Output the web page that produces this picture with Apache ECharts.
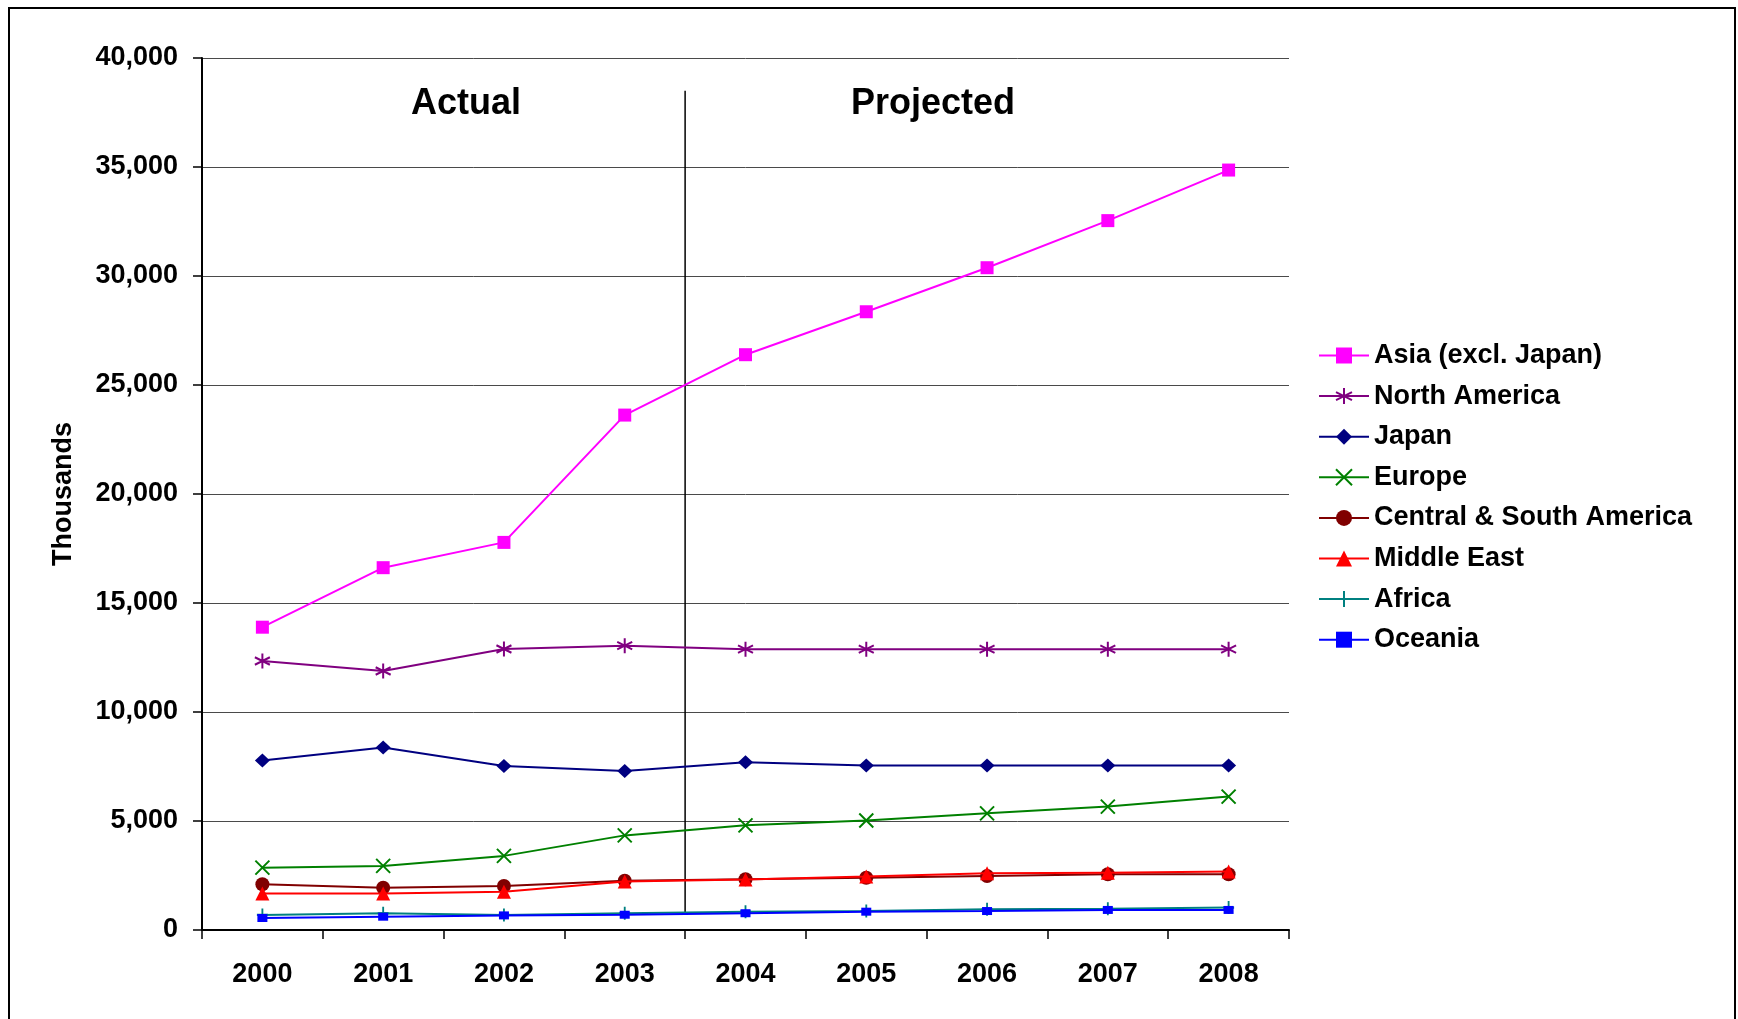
<!DOCTYPE html>
<html>
<head>
<meta charset="utf-8">
<script src="https://cdn.jsdelivr.net/npm/echarts@6/dist/echarts.min.js"></script>
<style>
html,body{margin:0;padding:0;background:#fff;}
#chart{width:1738px;height:1019px;}
</style>
</head>
<body>
<div id="chart"></div>
<script>
const years = ['2000','2001','2002','2003','2004','2005','2006','2007','2008'];
const yTicks = [0,5000,10000,15000,20000,25000,30000,35000,40000];

const asia       = [13890,16620,17780,23620,26390,28360,30380,32540,34860];
const northAm    = [12340,11880,12890,13040,12880,12880,12880,12880,12880];
const japan      = [7770,8370,7520,7290,7700,7550,7550,7550,7550];
const europe     = [2860,2940,3400,4340,4800,5020,5350,5660,6120];
const centralSA  = [2100,1940,2020,2260,2330,2400,2480,2560,2560];
const middleEast = [1680,1680,1760,2220,2320,2450,2600,2630,2680];
const africa     = [690,770,690,770,840,870,950,970,1030];
const oceania    = [550,610,670,700,770,840,870,920,920];

const seriesNames = ['Asia (excl. Japan)','North America','Japan','Europe','Central & South America','Middle East','Africa','Oceania'];
const seriesValues = [asia,northAm,japan,europe,centralSA,middleEast,africa,oceania];
const seriesColors = ['#FF00FF','#800080','#000080','#008000','#800000','#FF0000','#008080','#0000FF'];

const divider = { xValue: 4, from: 700, to: 38500 };

const FONT = 'Liberation Sans, Arial, sans-serif';

const symbolDefs = [
  {symbol:'rect', size:13, stroke:false},
  {symbol:'path://M0,-10 L0,10 M-8.66,-5 L8.66,5 M-8.66,5 L8.66,-5', size:15, stroke:true},
  {symbol:'diamond', size:[15,14], stroke:false},
  {symbol:'path://M-5,-5 L5,5 M-5,5 L5,-5', size:14, stroke:true},
  {symbol:'circle', size:14, stroke:false},
  {symbol:'triangle', size:14, stroke:false},
  {symbol:'path://M0,-6 L0,6 M-5,0 L5,0', size:[11,13], stroke:true},
  {symbol:'rect', size:[10,8], stroke:false}
];

const lineSeries = seriesNames.map((name,i)=>{
  const d = symbolDefs[i];
  return {
    name: name,
    type: 'line',
    xAxisIndex: 0,
    yAxisIndex: 0,
    data: seriesValues[i],
    symbol: d.symbol,
    symbolSize: d.size,
    showAllSymbol: true,
    lineStyle: {color: seriesColors[i], width: 2},
    itemStyle: d.stroke
      ? {color: seriesColors[i], borderColor: seriesColors[i], borderWidth: 2}
      : {color: seriesColors[i], borderWidth: 0},
    emphasis: {disabled: true},
    z: 3 + i
  };
});

lineSeries.push({
  name: 'divider',
  type: 'line',
  xAxisIndex: 1,
  yAxisIndex: 0,
  data: [[divider.xValue, divider.from],[divider.xValue, divider.to]],
  symbol: 'none',
  lineStyle: {color:'#000', width: 1.5},
  silent: true,
  emphasis: {disabled: true},
  z: 2
});

const chart = echarts.init(document.getElementById('chart'), null, {renderer:'canvas'});
const option = {
  animation: false,
  backgroundColor: '#fff',
  textStyle: {fontFamily: FONT},
  grid: {left: 202, right: 449, top: 58, bottom: 89, containLabel: false},
  legend: {
    data: seriesNames,
    orient: 'vertical',
    left: 1313,
    top: 337,
    itemWidth: 50,
    itemHeight: 20,
    itemGap: 13.6,
    selectedMode: false,
    textStyle: {fontFamily: FONT, fontWeight: 'bold', fontSize: 27, color: '#000', lineHeight: 27}
  },
  xAxis: [{
    type: 'category',
    data: years,
    boundaryGap: true,
    axisLine: {show: true, lineStyle: {color:'#000', width: 2}},
    axisTick: {show: true, length: 9, lineStyle: {color:'#000', width: 1.5}},
    axisLabel: {fontFamily: FONT, fontWeight:'bold', fontSize: 27, color:'#000', margin: 31},
    splitLine: {show: false}
  },{
    type: 'value',
    min: 0,
    max: 9,
    show: false
  }],
  yAxis: [{
    type: 'value',
    min: 0,
    max: 40000,
    interval: 5000,
    name: 'Thousands',
    nameLocation: 'middle',
    nameGap: 125,
    nameRotate: 90,
    nameTextStyle: {fontFamily: FONT, fontWeight:'bold', fontSize: 27, color:'#000'},
    axisLine: {show: true, lineStyle: {color:'#000', width: 2}},
    axisTick: {show: true, length: 9, lineStyle: {color:'#000', width: 1.5}},
    axisLabel: {
      fontFamily: FONT, fontWeight:'bold', fontSize: 27, color:'#000', margin: 24,
      formatter: v => v.toLocaleString('en-US')
    },
    splitLine: {show: true, lineStyle: {color:'#4a4a4a', width: 1}}
  }],
  graphic: [
    {type:'rect', shape:{x:9, y:8, width:1726, height:1040}, style:{fill:'none', stroke:'#000', lineWidth:2}, silent:true, z:0},
    {type:'text', left: 411, top: 86, style:{text:'Actual', font:'bold 36px '+FONT, fill:'#000'}, z:10},
    {type:'text', left: 851, top: 86, style:{text:'Projected', font:'bold 36px '+FONT, fill:'#000'}, z:10}
  ],
  series: lineSeries
};
chart.setOption(option);
</script>
</body>
</html>
